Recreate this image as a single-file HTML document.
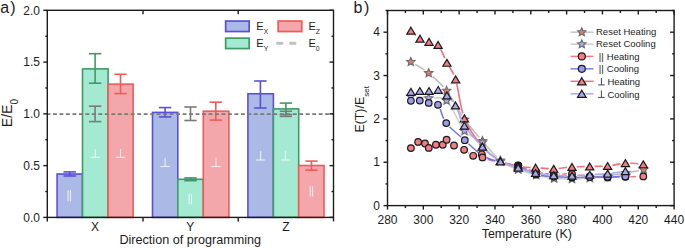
<!DOCTYPE html>
<html><head><meta charset="utf-8"><style>
html,body{margin:0;padding:0;background:#fff;width:685px;height:248px;overflow:hidden}
svg{display:block;font-family:"Liberation Sans", sans-serif}
</style></head><body>
<svg width="685" height="248" viewBox="0 0 685 248">
<rect x="57.10" y="174.00" width="25.40" height="43.40" fill="#aab9e6" stroke="#5a50d8" stroke-width="1.6"/>
<rect x="82.50" y="68.90" width="25.60" height="148.50" fill="#a4ead2" stroke="#3f9a66" stroke-width="1.6"/>
<rect x="108.10" y="84.10" width="25.00" height="133.30" fill="#f3a7ab" stroke="#ef5b58" stroke-width="1.6"/>
<rect x="152.50" y="112.40" width="25.30" height="105.00" fill="#aab9e6" stroke="#5a50d8" stroke-width="1.6"/>
<rect x="177.80" y="179.30" width="25.50" height="38.10" fill="#a4ead2" stroke="#3f9a66" stroke-width="1.6"/>
<rect x="203.30" y="111.20" width="25.60" height="106.20" fill="#f3a7ab" stroke="#ef5b58" stroke-width="1.6"/>
<rect x="247.90" y="93.75" width="25.50" height="123.65" fill="#aab9e6" stroke="#5a50d8" stroke-width="1.6"/>
<rect x="273.40" y="108.90" width="25.30" height="108.50" fill="#a4ead2" stroke="#3f9a66" stroke-width="1.6"/>
<rect x="298.70" y="165.50" width="25.30" height="51.90" fill="#f3a7ab" stroke="#ef5b58" stroke-width="1.6"/>
<line x1="95.40" y1="148.90" x2="95.40" y2="157.30" stroke="rgba(255,255,255,0.75)" stroke-width="1.1" />
<line x1="90.80" y1="157.30" x2="100.00" y2="157.30" stroke="rgba(255,255,255,0.75)" stroke-width="1.1" />
<line x1="120.50" y1="148.90" x2="120.50" y2="157.30" stroke="rgba(255,255,255,0.75)" stroke-width="1.1" />
<line x1="115.90" y1="157.30" x2="125.10" y2="157.30" stroke="rgba(255,255,255,0.75)" stroke-width="1.1" />
<line x1="165.10" y1="157.70" x2="165.10" y2="166.50" stroke="rgba(255,255,255,0.75)" stroke-width="1.1" />
<line x1="160.50" y1="166.50" x2="169.70" y2="166.50" stroke="rgba(255,255,255,0.75)" stroke-width="1.1" />
<line x1="216.00" y1="157.70" x2="216.00" y2="166.50" stroke="rgba(255,255,255,0.75)" stroke-width="1.1" />
<line x1="211.40" y1="166.50" x2="220.60" y2="166.50" stroke="rgba(255,255,255,0.75)" stroke-width="1.1" />
<line x1="260.60" y1="151.10" x2="260.60" y2="160.00" stroke="rgba(255,255,255,0.75)" stroke-width="1.1" />
<line x1="256.00" y1="160.00" x2="265.20" y2="160.00" stroke="rgba(255,255,255,0.75)" stroke-width="1.1" />
<line x1="285.50" y1="151.10" x2="285.50" y2="160.00" stroke="rgba(255,255,255,0.75)" stroke-width="1.1" />
<line x1="280.90" y1="160.00" x2="290.10" y2="160.00" stroke="rgba(255,255,255,0.75)" stroke-width="1.1" />
<line x1="68.10" y1="190.30" x2="68.10" y2="201.30" stroke="rgba(255,255,255,0.75)" stroke-width="1.1" />
<line x1="70.50" y1="190.30" x2="70.50" y2="201.30" stroke="rgba(255,255,255,0.75)" stroke-width="1.1" />
<line x1="189.10" y1="193.70" x2="189.10" y2="204.20" stroke="rgba(255,255,255,0.75)" stroke-width="1.1" />
<line x1="191.50" y1="193.70" x2="191.50" y2="204.20" stroke="rgba(255,255,255,0.75)" stroke-width="1.1" />
<line x1="310.20" y1="186.30" x2="310.20" y2="196.40" stroke="rgba(255,255,255,0.75)" stroke-width="1.1" />
<line x1="312.60" y1="186.30" x2="312.60" y2="196.40" stroke="rgba(255,255,255,0.75)" stroke-width="1.1" />
<line x1="69.70" y1="171.90" x2="69.70" y2="176.00" stroke="#5a50d8" stroke-width="1.6" />
<line x1="63.50" y1="171.90" x2="75.90" y2="171.90" stroke="#5a50d8" stroke-width="1.6" />
<line x1="63.50" y1="176.00" x2="75.90" y2="176.00" stroke="#5a50d8" stroke-width="1.6" />
<line x1="95.10" y1="53.70" x2="95.10" y2="83.20" stroke="#3f9a66" stroke-width="1.6" />
<line x1="88.90" y1="53.70" x2="101.30" y2="53.70" stroke="#3f9a66" stroke-width="1.6" />
<line x1="88.90" y1="83.20" x2="101.30" y2="83.20" stroke="#3f9a66" stroke-width="1.6" />
<line x1="120.50" y1="74.30" x2="120.50" y2="93.60" stroke="#ef5b58" stroke-width="1.6" />
<line x1="114.30" y1="74.30" x2="126.70" y2="74.30" stroke="#ef5b58" stroke-width="1.6" />
<line x1="114.30" y1="93.60" x2="126.70" y2="93.60" stroke="#ef5b58" stroke-width="1.6" />
<line x1="165.10" y1="107.60" x2="165.10" y2="116.90" stroke="#5a50d8" stroke-width="1.6" />
<line x1="158.90" y1="107.60" x2="171.30" y2="107.60" stroke="#5a50d8" stroke-width="1.6" />
<line x1="158.90" y1="116.90" x2="171.30" y2="116.90" stroke="#5a50d8" stroke-width="1.6" />
<line x1="190.50" y1="177.90" x2="190.50" y2="180.70" stroke="#3f9a66" stroke-width="1.6" />
<line x1="184.30" y1="177.90" x2="196.70" y2="177.90" stroke="#3f9a66" stroke-width="1.6" />
<line x1="184.30" y1="180.70" x2="196.70" y2="180.70" stroke="#3f9a66" stroke-width="1.6" />
<line x1="215.80" y1="102.20" x2="215.80" y2="120.10" stroke="#ef5b58" stroke-width="1.6" />
<line x1="209.60" y1="102.20" x2="222.00" y2="102.20" stroke="#ef5b58" stroke-width="1.6" />
<line x1="209.60" y1="120.10" x2="222.00" y2="120.10" stroke="#ef5b58" stroke-width="1.6" />
<line x1="260.40" y1="81.00" x2="260.40" y2="108.00" stroke="#5a50d8" stroke-width="1.6" />
<line x1="254.20" y1="81.00" x2="266.60" y2="81.00" stroke="#5a50d8" stroke-width="1.6" />
<line x1="254.20" y1="108.00" x2="266.60" y2="108.00" stroke="#5a50d8" stroke-width="1.6" />
<line x1="285.90" y1="103.10" x2="285.90" y2="114.60" stroke="#3f9a66" stroke-width="1.6" />
<line x1="279.70" y1="103.10" x2="292.10" y2="103.10" stroke="#3f9a66" stroke-width="1.6" />
<line x1="279.70" y1="114.60" x2="292.10" y2="114.60" stroke="#3f9a66" stroke-width="1.6" />
<line x1="311.50" y1="161.10" x2="311.50" y2="170.10" stroke="#ef5b58" stroke-width="1.6" />
<line x1="305.30" y1="161.10" x2="317.70" y2="161.10" stroke="#ef5b58" stroke-width="1.6" />
<line x1="305.30" y1="170.10" x2="317.70" y2="170.10" stroke="#ef5b58" stroke-width="1.6" />
<line x1="47.30" y1="114.00" x2="332.80" y2="114.00" stroke="#7a7a7a" stroke-width="1.75" stroke-dasharray="3.9 2.58" stroke-dashoffset="0.78"/>
<line x1="95.10" y1="106.20" x2="95.10" y2="121.60" stroke="#7a7a7a" stroke-width="1.6" />
<line x1="88.90" y1="106.20" x2="101.30" y2="106.20" stroke="#7a7a7a" stroke-width="1.6" />
<line x1="88.90" y1="121.60" x2="101.30" y2="121.60" stroke="#7a7a7a" stroke-width="1.6" />
<line x1="190.50" y1="107.00" x2="190.50" y2="120.50" stroke="#7a7a7a" stroke-width="1.6" />
<line x1="184.30" y1="107.00" x2="196.70" y2="107.00" stroke="#7a7a7a" stroke-width="1.6" />
<line x1="184.30" y1="120.50" x2="196.70" y2="120.50" stroke="#7a7a7a" stroke-width="1.6" />
<line x1="285.90" y1="111.30" x2="285.90" y2="116.40" stroke="#7a7a7a" stroke-width="1.6" />
<line x1="279.70" y1="111.30" x2="292.10" y2="111.30" stroke="#7a7a7a" stroke-width="1.6" />
<line x1="279.70" y1="116.40" x2="292.10" y2="116.40" stroke="#7a7a7a" stroke-width="1.6" />
<rect x="47.3" y="10.3" width="286.2" height="207.1" fill="none" stroke="#1c1c1c" stroke-width="1.4"/>
<line x1="43.30" y1="217.40" x2="47.30" y2="217.40" stroke="#1c1c1c" stroke-width="1.4" />
<line x1="329.50" y1="217.40" x2="333.50" y2="217.40" stroke="#1c1c1c" stroke-width="1.4" />
<text x="39.90" y="221.60" font-size="12" text-anchor="end" fill="#1c1c1c" >0.0</text>
<line x1="45.30" y1="191.51" x2="47.30" y2="191.51" stroke="#1c1c1c" stroke-width="1.4" />
<line x1="331.50" y1="191.51" x2="333.50" y2="191.51" stroke="#1c1c1c" stroke-width="1.4" />
<line x1="43.30" y1="165.62" x2="47.30" y2="165.62" stroke="#1c1c1c" stroke-width="1.4" />
<line x1="329.50" y1="165.62" x2="333.50" y2="165.62" stroke="#1c1c1c" stroke-width="1.4" />
<text x="39.90" y="169.82" font-size="12" text-anchor="end" fill="#1c1c1c" >0.5</text>
<line x1="45.30" y1="139.74" x2="47.30" y2="139.74" stroke="#1c1c1c" stroke-width="1.4" />
<line x1="331.50" y1="139.74" x2="333.50" y2="139.74" stroke="#1c1c1c" stroke-width="1.4" />
<line x1="43.30" y1="113.85" x2="47.30" y2="113.85" stroke="#1c1c1c" stroke-width="1.4" />
<line x1="329.50" y1="113.85" x2="333.50" y2="113.85" stroke="#1c1c1c" stroke-width="1.4" />
<text x="39.90" y="118.05" font-size="12" text-anchor="end" fill="#1c1c1c" >1.0</text>
<line x1="45.30" y1="87.96" x2="47.30" y2="87.96" stroke="#1c1c1c" stroke-width="1.4" />
<line x1="331.50" y1="87.96" x2="333.50" y2="87.96" stroke="#1c1c1c" stroke-width="1.4" />
<line x1="43.30" y1="62.08" x2="47.30" y2="62.08" stroke="#1c1c1c" stroke-width="1.4" />
<line x1="329.50" y1="62.08" x2="333.50" y2="62.08" stroke="#1c1c1c" stroke-width="1.4" />
<text x="39.90" y="66.28" font-size="12" text-anchor="end" fill="#1c1c1c" >1.5</text>
<line x1="45.30" y1="36.19" x2="47.30" y2="36.19" stroke="#1c1c1c" stroke-width="1.4" />
<line x1="331.50" y1="36.19" x2="333.50" y2="36.19" stroke="#1c1c1c" stroke-width="1.4" />
<line x1="43.30" y1="10.30" x2="47.30" y2="10.30" stroke="#1c1c1c" stroke-width="1.4" />
<line x1="329.50" y1="10.30" x2="333.50" y2="10.30" stroke="#1c1c1c" stroke-width="1.4" />
<text x="39.90" y="14.50" font-size="12" text-anchor="end" fill="#1c1c1c" >2.0</text>
<line x1="47.30" y1="217.40" x2="47.30" y2="221.40" stroke="#1c1c1c" stroke-width="1.4" />
<line x1="143.00" y1="217.40" x2="143.00" y2="221.40" stroke="#1c1c1c" stroke-width="1.4" />
<line x1="238.20" y1="217.40" x2="238.20" y2="221.40" stroke="#1c1c1c" stroke-width="1.4" />
<line x1="333.50" y1="217.40" x2="333.50" y2="221.40" stroke="#1c1c1c" stroke-width="1.4" />
<line x1="143.00" y1="10.30" x2="143.00" y2="14.30" stroke="#1c1c1c" stroke-width="1.4" />
<line x1="238.20" y1="10.30" x2="238.20" y2="14.30" stroke="#1c1c1c" stroke-width="1.4" />
<text x="94.90" y="231.40" font-size="12" text-anchor="middle" fill="#1c1c1c" >X</text>
<text x="190.20" y="231.40" font-size="12" text-anchor="middle" fill="#1c1c1c" >Y</text>
<text x="285.80" y="231.40" font-size="12" text-anchor="middle" fill="#1c1c1c" >Z</text>
<text x="190.25" y="244.20" font-size="12.63" text-anchor="middle" fill="#1c1c1c" >Direction of programming</text>
<text transform="translate(12.0,127.2) rotate(-90)" font-size="14" fill="#1c1c1c">E/E<tspan font-size="10" dy="5.6">0</tspan></text>
<text x="0.20" y="12.60" font-size="16" text-anchor="start" fill="#1c1c1c" >a<tspan dx="1.2">)</tspan></text>
<rect x="225.65" y="21.05" width="23.50" height="10.50" fill="#aab9e6" stroke="#5a50d8" stroke-width="1.7"/>
<rect x="278.15" y="21.05" width="23.60" height="10.50" fill="#f3a7ab" stroke="#ef5b58" stroke-width="1.7"/>
<rect x="225.65" y="38.15" width="23.50" height="10.40" fill="#a4ead2" stroke="#3f9a66" stroke-width="1.7"/>
<line x1="277.50" y1="43.20" x2="295.00" y2="43.20" stroke="#c0c0c0" stroke-width="3" stroke-dasharray="4.5 8.5" stroke-linecap="round"/>
<text x="256.3" y="30.1" font-size="11" fill="#1c1c1c">E<tspan font-size="6.6" dy="3.7">X</tspan></text>
<text x="308.5" y="30.1" font-size="11" fill="#1c1c1c">E<tspan font-size="7" dy="3.5">Z</tspan></text>
<text x="256.3" y="46.9" font-size="11" fill="#1c1c1c">E<tspan font-size="6.8" dy="4.3">Y</tspan></text>
<text x="308.5" y="46.9" font-size="11" fill="#1c1c1c">E<tspan font-size="6.8" dy="4.3">0</tspan></text>
<rect x="387.5" y="10.5" width="286.6" height="195.1" fill="none" stroke="#1c1c1c" stroke-width="1.4"/>
<line x1="383.50" y1="205.60" x2="387.50" y2="205.60" stroke="#1c1c1c" stroke-width="1.4" />
<line x1="670.10" y1="205.60" x2="674.10" y2="205.60" stroke="#1c1c1c" stroke-width="1.4" />
<text x="379.90" y="209.80" font-size="12" text-anchor="end" fill="#1c1c1c" >0</text>
<line x1="385.50" y1="183.92" x2="387.50" y2="183.92" stroke="#1c1c1c" stroke-width="1.4" />
<line x1="672.10" y1="183.92" x2="674.10" y2="183.92" stroke="#1c1c1c" stroke-width="1.4" />
<line x1="383.50" y1="162.24" x2="387.50" y2="162.24" stroke="#1c1c1c" stroke-width="1.4" />
<line x1="670.10" y1="162.24" x2="674.10" y2="162.24" stroke="#1c1c1c" stroke-width="1.4" />
<text x="379.90" y="166.44" font-size="12" text-anchor="end" fill="#1c1c1c" >1</text>
<line x1="385.50" y1="140.57" x2="387.50" y2="140.57" stroke="#1c1c1c" stroke-width="1.4" />
<line x1="672.10" y1="140.57" x2="674.10" y2="140.57" stroke="#1c1c1c" stroke-width="1.4" />
<line x1="383.50" y1="118.89" x2="387.50" y2="118.89" stroke="#1c1c1c" stroke-width="1.4" />
<line x1="670.10" y1="118.89" x2="674.10" y2="118.89" stroke="#1c1c1c" stroke-width="1.4" />
<text x="379.90" y="123.09" font-size="12" text-anchor="end" fill="#1c1c1c" >2</text>
<line x1="385.50" y1="97.21" x2="387.50" y2="97.21" stroke="#1c1c1c" stroke-width="1.4" />
<line x1="672.10" y1="97.21" x2="674.10" y2="97.21" stroke="#1c1c1c" stroke-width="1.4" />
<line x1="383.50" y1="75.53" x2="387.50" y2="75.53" stroke="#1c1c1c" stroke-width="1.4" />
<line x1="670.10" y1="75.53" x2="674.10" y2="75.53" stroke="#1c1c1c" stroke-width="1.4" />
<text x="379.90" y="79.73" font-size="12" text-anchor="end" fill="#1c1c1c" >3</text>
<line x1="385.50" y1="53.86" x2="387.50" y2="53.86" stroke="#1c1c1c" stroke-width="1.4" />
<line x1="672.10" y1="53.86" x2="674.10" y2="53.86" stroke="#1c1c1c" stroke-width="1.4" />
<line x1="383.50" y1="32.18" x2="387.50" y2="32.18" stroke="#1c1c1c" stroke-width="1.4" />
<line x1="670.10" y1="32.18" x2="674.10" y2="32.18" stroke="#1c1c1c" stroke-width="1.4" />
<text x="379.90" y="36.38" font-size="12" text-anchor="end" fill="#1c1c1c" >4</text>
<line x1="385.50" y1="10.50" x2="387.50" y2="10.50" stroke="#1c1c1c" stroke-width="1.4" />
<line x1="672.10" y1="10.50" x2="674.10" y2="10.50" stroke="#1c1c1c" stroke-width="1.4" />
<line x1="387.50" y1="205.60" x2="387.50" y2="209.60" stroke="#1c1c1c" stroke-width="1.4" />
<line x1="387.50" y1="10.50" x2="387.50" y2="14.50" stroke="#1c1c1c" stroke-width="1.4" />
<text x="387.50" y="223.70" font-size="12" text-anchor="middle" fill="#1c1c1c" >280</text>
<line x1="405.41" y1="205.60" x2="405.41" y2="208.10" stroke="#1c1c1c" stroke-width="1.4" />
<line x1="405.41" y1="10.50" x2="405.41" y2="13.00" stroke="#1c1c1c" stroke-width="1.4" />
<line x1="423.32" y1="205.60" x2="423.32" y2="209.60" stroke="#1c1c1c" stroke-width="1.4" />
<line x1="423.32" y1="10.50" x2="423.32" y2="14.50" stroke="#1c1c1c" stroke-width="1.4" />
<text x="423.32" y="223.70" font-size="12" text-anchor="middle" fill="#1c1c1c" >300</text>
<line x1="441.24" y1="205.60" x2="441.24" y2="208.10" stroke="#1c1c1c" stroke-width="1.4" />
<line x1="441.24" y1="10.50" x2="441.24" y2="13.00" stroke="#1c1c1c" stroke-width="1.4" />
<line x1="459.15" y1="205.60" x2="459.15" y2="209.60" stroke="#1c1c1c" stroke-width="1.4" />
<line x1="459.15" y1="10.50" x2="459.15" y2="14.50" stroke="#1c1c1c" stroke-width="1.4" />
<text x="459.15" y="223.70" font-size="12" text-anchor="middle" fill="#1c1c1c" >320</text>
<line x1="477.06" y1="205.60" x2="477.06" y2="208.10" stroke="#1c1c1c" stroke-width="1.4" />
<line x1="477.06" y1="10.50" x2="477.06" y2="13.00" stroke="#1c1c1c" stroke-width="1.4" />
<line x1="494.98" y1="205.60" x2="494.98" y2="209.60" stroke="#1c1c1c" stroke-width="1.4" />
<line x1="494.98" y1="10.50" x2="494.98" y2="14.50" stroke="#1c1c1c" stroke-width="1.4" />
<text x="494.98" y="223.70" font-size="12" text-anchor="middle" fill="#1c1c1c" >340</text>
<line x1="512.89" y1="205.60" x2="512.89" y2="208.10" stroke="#1c1c1c" stroke-width="1.4" />
<line x1="512.89" y1="10.50" x2="512.89" y2="13.00" stroke="#1c1c1c" stroke-width="1.4" />
<line x1="530.80" y1="205.60" x2="530.80" y2="209.60" stroke="#1c1c1c" stroke-width="1.4" />
<line x1="530.80" y1="10.50" x2="530.80" y2="14.50" stroke="#1c1c1c" stroke-width="1.4" />
<text x="530.80" y="223.70" font-size="12" text-anchor="middle" fill="#1c1c1c" >360</text>
<line x1="548.71" y1="205.60" x2="548.71" y2="208.10" stroke="#1c1c1c" stroke-width="1.4" />
<line x1="548.71" y1="10.50" x2="548.71" y2="13.00" stroke="#1c1c1c" stroke-width="1.4" />
<line x1="566.62" y1="205.60" x2="566.62" y2="209.60" stroke="#1c1c1c" stroke-width="1.4" />
<line x1="566.62" y1="10.50" x2="566.62" y2="14.50" stroke="#1c1c1c" stroke-width="1.4" />
<text x="566.62" y="223.70" font-size="12" text-anchor="middle" fill="#1c1c1c" >380</text>
<line x1="584.54" y1="205.60" x2="584.54" y2="208.10" stroke="#1c1c1c" stroke-width="1.4" />
<line x1="584.54" y1="10.50" x2="584.54" y2="13.00" stroke="#1c1c1c" stroke-width="1.4" />
<line x1="602.45" y1="205.60" x2="602.45" y2="209.60" stroke="#1c1c1c" stroke-width="1.4" />
<line x1="602.45" y1="10.50" x2="602.45" y2="14.50" stroke="#1c1c1c" stroke-width="1.4" />
<text x="602.45" y="223.70" font-size="12" text-anchor="middle" fill="#1c1c1c" >400</text>
<line x1="620.36" y1="205.60" x2="620.36" y2="208.10" stroke="#1c1c1c" stroke-width="1.4" />
<line x1="620.36" y1="10.50" x2="620.36" y2="13.00" stroke="#1c1c1c" stroke-width="1.4" />
<line x1="638.27" y1="205.60" x2="638.27" y2="209.60" stroke="#1c1c1c" stroke-width="1.4" />
<line x1="638.27" y1="10.50" x2="638.27" y2="14.50" stroke="#1c1c1c" stroke-width="1.4" />
<text x="638.27" y="223.70" font-size="12" text-anchor="middle" fill="#1c1c1c" >420</text>
<line x1="656.19" y1="205.60" x2="656.19" y2="208.10" stroke="#1c1c1c" stroke-width="1.4" />
<line x1="656.19" y1="10.50" x2="656.19" y2="13.00" stroke="#1c1c1c" stroke-width="1.4" />
<line x1="674.10" y1="205.60" x2="674.10" y2="209.60" stroke="#1c1c1c" stroke-width="1.4" />
<line x1="674.10" y1="10.50" x2="674.10" y2="14.50" stroke="#1c1c1c" stroke-width="1.4" />
<text x="674.10" y="223.70" font-size="12" text-anchor="middle" fill="#1c1c1c" >440</text>
<text x="526.80" y="237.90" font-size="12.5" text-anchor="middle" fill="#1c1c1c" >Temperature (K)</text>
<text transform="translate(364.4,132.6) rotate(-90)" font-size="12.4" fill="#1c1c1c">E(T)/E<tspan font-size="8" dy="4.3">set</tspan></text>
<text x="353.40" y="13.30" font-size="16" text-anchor="start" fill="#1c1c1c" >b<tspan dx="1.6">)</tspan></text>
<mask id="m1" maskUnits="userSpaceOnUse" x="380" y="0" width="305" height="248"><rect x="380" y="0" width="305" height="248" fill="#fff"/><circle cx="410.79" cy="61.90" r="5.0" fill="#000"/><circle cx="428.70" cy="73.10" r="5.0" fill="#000"/><circle cx="446.61" cy="90.80" r="5.0" fill="#000"/><circle cx="464.52" cy="119.50" r="5.0" fill="#000"/><circle cx="482.44" cy="141.00" r="5.0" fill="#000"/><circle cx="500.35" cy="160.50" r="5.0" fill="#000"/><circle cx="518.26" cy="169.00" r="5.0" fill="#000"/><circle cx="536.17" cy="174.50" r="5.0" fill="#000"/><circle cx="554.09" cy="177.50" r="5.0" fill="#000"/><circle cx="572.00" cy="178.00" r="5.0" fill="#000"/><circle cx="589.91" cy="177.50" r="5.0" fill="#000"/><circle cx="607.82" cy="175.50" r="5.0" fill="#000"/><circle cx="625.74" cy="173.00" r="5.0" fill="#000"/><circle cx="643.65" cy="169.60" r="5.0" fill="#000"/></mask>
<g mask="url(#m1)">
<path d="M410.79,61.90 C413.77,63.77 422.73,68.28 428.70,73.10 C434.67,77.92 440.64,83.07 446.61,90.80 C452.58,98.53 458.55,111.13 464.52,119.50 C470.49,127.87 476.47,134.17 482.44,141.00 C488.41,147.83 494.38,155.83 500.35,160.50 C506.32,165.17 512.29,166.67 518.26,169.00 C524.23,171.33 530.20,173.08 536.17,174.50 C542.14,175.92 548.12,176.92 554.09,177.50 C560.06,178.08 566.03,178.00 572.00,178.00 C577.97,178.00 583.94,177.92 589.91,177.50 C595.88,177.08 601.85,176.25 607.82,175.50 C613.79,174.75 619.77,173.98 625.74,173.00 C631.71,172.02 640.66,170.17 643.65,169.60" fill="none" stroke="#bcbcbc" stroke-width="1.5" />
</g>
<polygon points="410.79,57.60 411.97,60.26 414.88,60.57 412.71,62.52 413.31,65.38 410.79,63.92 408.26,65.38 408.86,62.52 406.70,60.57 409.60,60.26" fill="#e8767c" stroke="#6e6e6e" stroke-width="1.2" stroke-linejoin="miter"/>
<polygon points="428.70,68.80 429.89,71.46 432.79,71.77 430.62,73.72 431.23,76.58 428.70,75.12 426.17,76.58 426.78,73.72 424.61,71.77 427.51,71.46" fill="#e8767c" stroke="#6e6e6e" stroke-width="1.2" stroke-linejoin="miter"/>
<polygon points="446.61,86.50 447.80,89.16 450.70,89.47 448.53,91.42 449.14,94.28 446.61,92.82 444.08,94.28 444.69,91.42 442.52,89.47 445.42,89.16" fill="#e8767c" stroke="#6e6e6e" stroke-width="1.2" stroke-linejoin="miter"/>
<polygon points="464.52,115.20 465.71,117.86 468.61,118.17 466.45,120.12 467.05,122.98 464.52,121.52 462.00,122.98 462.60,120.12 460.43,118.17 463.34,117.86" fill="#e8767c" stroke="#6e6e6e" stroke-width="1.2" stroke-linejoin="miter"/>
<polygon points="482.44,136.70 483.62,139.36 486.53,139.67 484.36,141.62 484.96,144.48 482.44,143.02 479.91,144.48 480.51,141.62 478.35,139.67 481.25,139.36" fill="#e8767c" stroke="#6e6e6e" stroke-width="1.2" stroke-linejoin="miter"/>
<polygon points="500.35,156.20 501.54,158.86 504.44,159.17 502.27,161.12 502.88,163.98 500.35,162.52 497.82,163.98 498.43,161.12 496.26,159.17 499.16,158.86" fill="#e8767c" stroke="#6e6e6e" stroke-width="1.2" stroke-linejoin="miter"/>
<polygon points="518.26,164.70 519.45,167.36 522.35,167.67 520.18,169.62 520.79,172.48 518.26,171.02 515.73,172.48 516.34,169.62 514.17,167.67 517.07,167.36" fill="#e8767c" stroke="#6e6e6e" stroke-width="1.2" stroke-linejoin="miter"/>
<polygon points="536.17,170.20 537.36,172.86 540.26,173.17 538.10,175.12 538.70,177.98 536.17,176.52 533.65,177.98 534.25,175.12 532.08,173.17 534.99,172.86" fill="#e8767c" stroke="#6e6e6e" stroke-width="1.2" stroke-linejoin="miter"/>
<polygon points="554.09,173.20 555.27,175.86 558.18,176.17 556.01,178.12 556.61,180.98 554.09,179.52 551.56,180.98 552.16,178.12 550.00,176.17 552.90,175.86" fill="#e8767c" stroke="#6e6e6e" stroke-width="1.2" stroke-linejoin="miter"/>
<polygon points="572.00,173.70 573.19,176.36 576.09,176.67 573.92,178.62 574.53,181.48 572.00,180.02 569.47,181.48 570.08,178.62 567.91,176.67 570.81,176.36" fill="#e8767c" stroke="#6e6e6e" stroke-width="1.2" stroke-linejoin="miter"/>
<polygon points="589.91,173.20 591.10,175.86 594.00,176.17 591.83,178.12 592.44,180.98 589.91,179.52 587.38,180.98 587.99,178.12 585.82,176.17 588.72,175.86" fill="#e8767c" stroke="#6e6e6e" stroke-width="1.2" stroke-linejoin="miter"/>
<polygon points="607.82,171.20 609.01,173.86 611.91,174.17 609.75,176.12 610.35,178.98 607.82,177.52 605.30,178.98 605.90,176.12 603.73,174.17 606.64,173.86" fill="#e8767c" stroke="#6e6e6e" stroke-width="1.2" stroke-linejoin="miter"/>
<polygon points="625.74,168.70 626.92,171.36 629.83,171.67 627.66,173.62 628.26,176.48 625.74,175.02 623.21,176.48 623.81,173.62 621.65,171.67 624.55,171.36" fill="#e8767c" stroke="#6e6e6e" stroke-width="1.2" stroke-linejoin="miter"/>
<polygon points="643.65,165.30 644.84,167.96 647.74,168.27 645.57,170.22 646.18,173.08 643.65,171.62 641.12,173.08 641.73,170.22 639.56,168.27 642.46,167.96" fill="#e8767c" stroke="#6e6e6e" stroke-width="1.2" stroke-linejoin="miter"/>
<mask id="m2" maskUnits="userSpaceOnUse" x="380" y="0" width="305" height="248"><rect x="380" y="0" width="305" height="248" fill="#fff"/><circle cx="410.79" cy="96.50" r="5.0" fill="#000"/><circle cx="428.70" cy="98.20" r="5.0" fill="#000"/><circle cx="446.61" cy="100.60" r="5.0" fill="#000"/><circle cx="464.52" cy="131.00" r="5.0" fill="#000"/><circle cx="482.44" cy="142.40" r="5.0" fill="#000"/><circle cx="500.35" cy="161.50" r="5.0" fill="#000"/><circle cx="518.26" cy="169.50" r="5.0" fill="#000"/><circle cx="536.17" cy="175.00" r="5.0" fill="#000"/><circle cx="554.09" cy="178.50" r="5.0" fill="#000"/><circle cx="572.00" cy="179.00" r="5.0" fill="#000"/><circle cx="589.91" cy="178.00" r="5.0" fill="#000"/><circle cx="607.82" cy="177.00" r="5.0" fill="#000"/><circle cx="625.74" cy="175.50" r="5.0" fill="#000"/></mask>
<g mask="url(#m2)">
<path d="M410.79,96.50 C413.77,96.78 422.73,97.52 428.70,98.20 C434.67,98.88 440.64,95.13 446.61,100.60 C452.58,106.07 458.55,124.03 464.52,131.00 C470.49,137.97 476.47,137.32 482.44,142.40 C488.41,147.48 494.38,156.98 500.35,161.50 C506.32,166.02 512.29,167.25 518.26,169.50 C524.23,171.75 530.20,173.50 536.17,175.00 C542.14,176.50 548.12,177.83 554.09,178.50 C560.06,179.17 566.03,179.08 572.00,179.00 C577.97,178.92 583.94,178.33 589.91,178.00 C595.88,177.67 601.85,177.42 607.82,177.00 C613.79,176.58 622.75,175.75 625.74,175.50" fill="none" stroke="#d2d2d2" stroke-width="1.5" />
</g>
<polygon points="410.79,92.20 411.97,94.86 414.88,95.17 412.71,97.12 413.31,99.98 410.79,98.52 408.26,99.98 408.86,97.12 406.70,95.17 409.60,94.86" fill="#b0aaf0" stroke="#6e6e6e" stroke-width="1.2" stroke-linejoin="miter"/>
<polygon points="428.70,93.90 429.89,96.56 432.79,96.87 430.62,98.82 431.23,101.68 428.70,100.22 426.17,101.68 426.78,98.82 424.61,96.87 427.51,96.56" fill="#b0aaf0" stroke="#6e6e6e" stroke-width="1.2" stroke-linejoin="miter"/>
<polygon points="446.61,96.30 447.80,98.96 450.70,99.27 448.53,101.22 449.14,104.08 446.61,102.62 444.08,104.08 444.69,101.22 442.52,99.27 445.42,98.96" fill="#b0aaf0" stroke="#6e6e6e" stroke-width="1.2" stroke-linejoin="miter"/>
<polygon points="464.52,126.70 465.71,129.36 468.61,129.67 466.45,131.62 467.05,134.48 464.52,133.02 462.00,134.48 462.60,131.62 460.43,129.67 463.34,129.36" fill="#b0aaf0" stroke="#6e6e6e" stroke-width="1.2" stroke-linejoin="miter"/>
<polygon points="482.44,138.10 483.62,140.76 486.53,141.07 484.36,143.02 484.96,145.88 482.44,144.42 479.91,145.88 480.51,143.02 478.35,141.07 481.25,140.76" fill="#b0aaf0" stroke="#6e6e6e" stroke-width="1.2" stroke-linejoin="miter"/>
<polygon points="500.35,157.20 501.54,159.86 504.44,160.17 502.27,162.12 502.88,164.98 500.35,163.52 497.82,164.98 498.43,162.12 496.26,160.17 499.16,159.86" fill="#b0aaf0" stroke="#6e6e6e" stroke-width="1.2" stroke-linejoin="miter"/>
<polygon points="518.26,165.20 519.45,167.86 522.35,168.17 520.18,170.12 520.79,172.98 518.26,171.52 515.73,172.98 516.34,170.12 514.17,168.17 517.07,167.86" fill="#b0aaf0" stroke="#6e6e6e" stroke-width="1.2" stroke-linejoin="miter"/>
<polygon points="536.17,170.70 537.36,173.36 540.26,173.67 538.10,175.62 538.70,178.48 536.17,177.02 533.65,178.48 534.25,175.62 532.08,173.67 534.99,173.36" fill="#b0aaf0" stroke="#6e6e6e" stroke-width="1.2" stroke-linejoin="miter"/>
<polygon points="554.09,174.20 555.27,176.86 558.18,177.17 556.01,179.12 556.61,181.98 554.09,180.52 551.56,181.98 552.16,179.12 550.00,177.17 552.90,176.86" fill="#b0aaf0" stroke="#6e6e6e" stroke-width="1.2" stroke-linejoin="miter"/>
<polygon points="572.00,174.70 573.19,177.36 576.09,177.67 573.92,179.62 574.53,182.48 572.00,181.02 569.47,182.48 570.08,179.62 567.91,177.67 570.81,177.36" fill="#b0aaf0" stroke="#6e6e6e" stroke-width="1.2" stroke-linejoin="miter"/>
<polygon points="589.91,173.70 591.10,176.36 594.00,176.67 591.83,178.62 592.44,181.48 589.91,180.02 587.38,181.48 587.99,178.62 585.82,176.67 588.72,176.36" fill="#b0aaf0" stroke="#6e6e6e" stroke-width="1.2" stroke-linejoin="miter"/>
<polygon points="607.82,172.70 609.01,175.36 611.91,175.67 609.75,177.62 610.35,180.48 607.82,179.02 605.30,180.48 605.90,177.62 603.73,175.67 606.64,175.36" fill="#b0aaf0" stroke="#6e6e6e" stroke-width="1.2" stroke-linejoin="miter"/>
<polygon points="625.74,171.20 626.92,173.86 629.83,174.17 627.66,176.12 628.26,178.98 625.74,177.52 623.21,178.98 623.81,176.12 621.65,174.17 624.55,173.86" fill="#b0aaf0" stroke="#6e6e6e" stroke-width="1.2" stroke-linejoin="miter"/>
<mask id="m3" maskUnits="userSpaceOnUse" x="380" y="0" width="305" height="248"><rect x="380" y="0" width="305" height="248" fill="#fff"/><circle cx="410.90" cy="148.10" r="5.0" fill="#000"/><circle cx="418.10" cy="141.90" r="5.0" fill="#000"/><circle cx="425.00" cy="143.50" r="5.0" fill="#000"/><circle cx="428.75" cy="147.90" r="5.0" fill="#000"/><circle cx="435.90" cy="144.75" r="5.0" fill="#000"/><circle cx="442.75" cy="144.75" r="5.0" fill="#000"/><circle cx="446.60" cy="139.75" r="5.0" fill="#000"/><circle cx="454.00" cy="145.50" r="5.0" fill="#000"/><circle cx="464.10" cy="149.80" r="5.0" fill="#000"/><circle cx="473.20" cy="155.80" r="5.0" fill="#000"/><circle cx="481.80" cy="154.30" r="5.0" fill="#000"/><circle cx="482.50" cy="157.40" r="5.0" fill="#000"/><circle cx="500.30" cy="162.80" r="5.0" fill="#000"/><circle cx="518.20" cy="165.60" r="5.0" fill="#000"/><circle cx="536.00" cy="172.00" r="5.0" fill="#000"/><circle cx="553.70" cy="174.00" r="5.0" fill="#000"/><circle cx="572.00" cy="174.00" r="5.0" fill="#000"/><circle cx="589.70" cy="176.50" r="5.0" fill="#000"/><circle cx="607.60" cy="177.50" r="5.0" fill="#000"/><circle cx="625.40" cy="176.80" r="5.0" fill="#000"/><circle cx="643.30" cy="176.40" r="5.0" fill="#000"/></mask>
<g mask="url(#m3)">
<path d="M410.90,148.10 C412.10,147.07 415.75,142.67 418.10,141.90 C420.45,141.13 423.23,142.50 425.00,143.50 C426.77,144.50 426.93,147.69 428.75,147.90 C430.57,148.11 433.57,145.28 435.90,144.75 C438.23,144.22 440.97,145.58 442.75,144.75 C444.53,143.92 444.73,139.62 446.60,139.75 C448.48,139.88 451.08,143.82 454.00,145.50 C456.92,147.18 460.90,148.08 464.10,149.80 C467.30,151.52 470.25,155.05 473.20,155.80 C476.15,156.55 480.25,154.03 481.80,154.30 C483.35,154.57 479.42,155.98 482.50,157.40 C485.58,158.82 494.35,161.43 500.30,162.80 C506.25,164.17 512.25,164.07 518.20,165.60 C524.15,167.13 530.08,170.60 536.00,172.00 C541.92,173.40 547.70,173.67 553.70,174.00 C559.70,174.33 566.00,173.58 572.00,174.00 C578.00,174.42 583.77,175.92 589.70,176.50 C595.63,177.08 601.65,177.45 607.60,177.50 C613.55,177.55 619.45,176.98 625.40,176.80 C631.35,176.62 640.32,176.47 643.30,176.40" fill="none" stroke="#f27c82" stroke-width="1.5" stroke-dasharray="6 2.5"/>
</g>
<circle cx="410.90" cy="148.10" r="3.3" fill="#f27c82" stroke="#1a1a1a" stroke-width="1.2"/>
<circle cx="418.10" cy="141.90" r="3.3" fill="#f27c82" stroke="#1a1a1a" stroke-width="1.2"/>
<circle cx="425.00" cy="143.50" r="3.3" fill="#f27c82" stroke="#1a1a1a" stroke-width="1.2"/>
<circle cx="428.75" cy="147.90" r="3.3" fill="#f27c82" stroke="#1a1a1a" stroke-width="1.2"/>
<circle cx="435.90" cy="144.75" r="3.3" fill="#f27c82" stroke="#1a1a1a" stroke-width="1.2"/>
<circle cx="442.75" cy="144.75" r="3.3" fill="#f27c82" stroke="#1a1a1a" stroke-width="1.2"/>
<circle cx="446.60" cy="139.75" r="3.3" fill="#f27c82" stroke="#1a1a1a" stroke-width="1.2"/>
<circle cx="454.00" cy="145.50" r="3.3" fill="#f27c82" stroke="#1a1a1a" stroke-width="1.2"/>
<circle cx="464.10" cy="149.80" r="3.3" fill="#f27c82" stroke="#1a1a1a" stroke-width="1.2"/>
<circle cx="473.20" cy="155.80" r="3.3" fill="#f27c82" stroke="#1a1a1a" stroke-width="1.2"/>
<circle cx="481.80" cy="154.30" r="3.3" fill="#f27c82" stroke="#1a1a1a" stroke-width="1.2"/>
<circle cx="482.50" cy="157.40" r="3.3" fill="#f27c82" stroke="#1a1a1a" stroke-width="1.2"/>
<circle cx="518.20" cy="165.60" r="3.3" fill="#f27c82" stroke="#1a1a1a" stroke-width="1.2"/>
<circle cx="536.00" cy="172.00" r="3.3" fill="#f27c82" stroke="#1a1a1a" stroke-width="1.2"/>
<circle cx="553.70" cy="174.00" r="3.3" fill="#f27c82" stroke="#1a1a1a" stroke-width="1.2"/>
<circle cx="572.00" cy="174.00" r="3.3" fill="#f27c82" stroke="#1a1a1a" stroke-width="1.2"/>
<circle cx="589.70" cy="176.50" r="3.3" fill="#f27c82" stroke="#1a1a1a" stroke-width="1.2"/>
<circle cx="607.60" cy="177.50" r="3.3" fill="#f27c82" stroke="#1a1a1a" stroke-width="1.2"/>
<circle cx="625.40" cy="176.80" r="3.3" fill="#f27c82" stroke="#1a1a1a" stroke-width="1.2"/>
<circle cx="643.30" cy="176.40" r="3.3" fill="#f27c82" stroke="#1a1a1a" stroke-width="1.2"/>
<mask id="m4" maskUnits="userSpaceOnUse" x="380" y="0" width="305" height="248"><rect x="380" y="0" width="305" height="248" fill="#fff"/><circle cx="410.90" cy="100.80" r="5.0" fill="#000"/><circle cx="419.80" cy="100.60" r="5.0" fill="#000"/><circle cx="428.70" cy="102.90" r="5.0" fill="#000"/><circle cx="438.00" cy="104.80" r="5.0" fill="#000"/><circle cx="446.25" cy="123.10" r="5.0" fill="#000"/><circle cx="464.80" cy="140.20" r="5.0" fill="#000"/><circle cx="482.30" cy="155.50" r="5.0" fill="#000"/><circle cx="500.30" cy="162.30" r="5.0" fill="#000"/><circle cx="518.20" cy="166.00" r="5.0" fill="#000"/><circle cx="536.00" cy="174.50" r="5.0" fill="#000"/><circle cx="553.70" cy="176.50" r="5.0" fill="#000"/><circle cx="572.00" cy="177.40" r="5.0" fill="#000"/><circle cx="589.70" cy="177.00" r="5.0" fill="#000"/><circle cx="607.60" cy="176.80" r="5.0" fill="#000"/><circle cx="625.40" cy="176.50" r="5.0" fill="#000"/></mask>
<g mask="url(#m4)">
<path d="M410.90,100.80 C412.38,100.77 416.83,100.25 419.80,100.60 C422.77,100.95 425.67,102.20 428.70,102.90 C431.73,103.60 435.07,101.43 438.00,104.80 C440.93,108.17 441.78,117.20 446.25,123.10 C450.72,129.00 458.79,134.80 464.80,140.20 C470.81,145.60 476.38,151.82 482.30,155.50 C488.22,159.18 494.32,160.55 500.30,162.30 C506.28,164.05 512.25,163.97 518.20,166.00 C524.15,168.03 530.08,172.75 536.00,174.50 C541.92,176.25 547.70,176.02 553.70,176.50 C559.70,176.98 566.00,177.32 572.00,177.40 C578.00,177.48 583.77,177.10 589.70,177.00 C595.63,176.90 601.65,176.88 607.60,176.80 C613.55,176.72 622.43,176.55 625.40,176.50" fill="none" stroke="#7474e4" stroke-width="1.5" />
</g>
<circle cx="410.90" cy="100.80" r="3.3" fill="#9c9ceb" stroke="#1a1a1a" stroke-width="1.2"/>
<circle cx="419.80" cy="100.60" r="3.3" fill="#9c9ceb" stroke="#1a1a1a" stroke-width="1.2"/>
<circle cx="428.70" cy="102.90" r="3.3" fill="#9c9ceb" stroke="#1a1a1a" stroke-width="1.2"/>
<circle cx="438.00" cy="104.80" r="3.3" fill="#9c9ceb" stroke="#1a1a1a" stroke-width="1.2"/>
<circle cx="446.25" cy="123.10" r="3.3" fill="#9c9ceb" stroke="#1a1a1a" stroke-width="1.2"/>
<circle cx="464.80" cy="140.20" r="3.3" fill="#9c9ceb" stroke="#1a1a1a" stroke-width="1.2"/>
<circle cx="518.20" cy="166.00" r="3.3" fill="#9c9ceb" stroke="#1a1a1a" stroke-width="1.2"/>
<circle cx="536.00" cy="174.50" r="3.3" fill="#9c9ceb" stroke="#1a1a1a" stroke-width="1.2"/>
<circle cx="553.70" cy="176.50" r="3.3" fill="#9c9ceb" stroke="#1a1a1a" stroke-width="1.2"/>
<circle cx="572.00" cy="177.40" r="3.3" fill="#9c9ceb" stroke="#1a1a1a" stroke-width="1.2"/>
<circle cx="589.70" cy="177.00" r="3.3" fill="#9c9ceb" stroke="#1a1a1a" stroke-width="1.2"/>
<circle cx="607.60" cy="176.80" r="3.3" fill="#9c9ceb" stroke="#1a1a1a" stroke-width="1.2"/>
<circle cx="625.40" cy="176.50" r="3.3" fill="#9c9ceb" stroke="#1a1a1a" stroke-width="1.2"/>
<circle cx="518.20" cy="165.60" r="3.5" fill="#262626" stroke="#1a1a1a" stroke-width="1.2"/>
<mask id="m5" maskUnits="userSpaceOnUse" x="380" y="0" width="305" height="248"><rect x="380" y="0" width="305" height="248" fill="#fff"/><circle cx="410.90" cy="30.65" r="5.0" fill="#000"/><circle cx="420.00" cy="38.65" r="5.0" fill="#000"/><circle cx="429.00" cy="41.85" r="5.0" fill="#000"/><circle cx="438.10" cy="44.90" r="5.0" fill="#000"/><circle cx="446.90" cy="62.80" r="5.0" fill="#000"/><circle cx="455.60" cy="79.35" r="5.0" fill="#000"/><circle cx="464.40" cy="118.35" r="5.0" fill="#000"/><circle cx="482.30" cy="146.50" r="5.0" fill="#000"/><circle cx="500.30" cy="161.00" r="5.0" fill="#000"/><circle cx="518.20" cy="166.50" r="5.0" fill="#000"/><circle cx="535.60" cy="167.70" r="5.0" fill="#000"/><circle cx="553.70" cy="168.80" r="5.0" fill="#000"/><circle cx="572.00" cy="166.90" r="5.0" fill="#000"/><circle cx="589.70" cy="166.40" r="5.0" fill="#000"/><circle cx="607.60" cy="166.00" r="5.0" fill="#000"/><circle cx="625.40" cy="163.10" r="5.0" fill="#000"/><circle cx="643.30" cy="164.30" r="5.0" fill="#000"/></mask>
<g mask="url(#m5)">
<path d="M410.90,30.65 C412.42,31.98 416.98,36.78 420.00,38.65 C423.02,40.52 425.98,40.81 429.00,41.85 C432.02,42.89 435.12,41.41 438.10,44.90 C441.08,48.39 443.98,57.06 446.90,62.80 C449.82,68.54 452.68,70.09 455.60,79.35 C458.52,88.61 459.95,107.16 464.40,118.35 C468.85,129.54 476.32,139.39 482.30,146.50 C488.28,153.61 494.32,157.67 500.30,161.00 C506.28,164.33 512.32,165.38 518.20,166.50 C524.08,167.62 529.68,167.32 535.60,167.70 C541.52,168.08 547.63,168.93 553.70,168.80 C559.77,168.67 566.00,167.30 572.00,166.90 C578.00,166.50 583.77,166.55 589.70,166.40 C595.63,166.25 601.65,166.55 607.60,166.00 C613.55,165.45 619.45,163.38 625.40,163.10 C631.35,162.82 640.32,164.10 643.30,164.30" fill="none" stroke="#f27080" stroke-width="1.6" />
</g>
<polygon points="410.90,27.20 415.00,34.10 406.80,34.10" fill="#f27c82" stroke="#1a1a1a" stroke-width="1.2" stroke-linejoin="miter"/>
<polygon points="420.00,35.20 424.10,42.10 415.90,42.10" fill="#f27c82" stroke="#1a1a1a" stroke-width="1.2" stroke-linejoin="miter"/>
<polygon points="429.00,38.40 433.10,45.30 424.90,45.30" fill="#f27c82" stroke="#1a1a1a" stroke-width="1.2" stroke-linejoin="miter"/>
<polygon points="438.10,41.45 442.20,48.35 434.00,48.35" fill="#f27c82" stroke="#1a1a1a" stroke-width="1.2" stroke-linejoin="miter"/>
<polygon points="446.90,59.35 451.00,66.25 442.80,66.25" fill="#f27c82" stroke="#1a1a1a" stroke-width="1.2" stroke-linejoin="miter"/>
<polygon points="455.60,75.90 459.70,82.80 451.50,82.80" fill="#f27c82" stroke="#1a1a1a" stroke-width="1.2" stroke-linejoin="miter"/>
<polygon points="464.40,114.90 468.50,121.80 460.30,121.80" fill="#f27c82" stroke="#1a1a1a" stroke-width="1.2" stroke-linejoin="miter"/>
<polygon points="482.30,143.05 486.40,149.95 478.20,149.95" fill="#f27c82" stroke="#1a1a1a" stroke-width="1.2" stroke-linejoin="miter"/>
<polygon points="500.30,157.55 504.40,164.45 496.20,164.45" fill="#f27c82" stroke="#1a1a1a" stroke-width="1.2" stroke-linejoin="miter"/>
<polygon points="518.20,163.05 522.30,169.95 514.10,169.95" fill="#f27c82" stroke="#1a1a1a" stroke-width="1.2" stroke-linejoin="miter"/>
<polygon points="535.60,164.25 539.70,171.15 531.50,171.15" fill="#f27c82" stroke="#1a1a1a" stroke-width="1.2" stroke-linejoin="miter"/>
<polygon points="553.70,165.35 557.80,172.25 549.60,172.25" fill="#f27c82" stroke="#1a1a1a" stroke-width="1.2" stroke-linejoin="miter"/>
<polygon points="572.00,163.45 576.10,170.35 567.90,170.35" fill="#f27c82" stroke="#1a1a1a" stroke-width="1.2" stroke-linejoin="miter"/>
<polygon points="589.70,162.95 593.80,169.85 585.60,169.85" fill="#f27c82" stroke="#1a1a1a" stroke-width="1.2" stroke-linejoin="miter"/>
<polygon points="607.60,162.55 611.70,169.45 603.50,169.45" fill="#f27c82" stroke="#1a1a1a" stroke-width="1.2" stroke-linejoin="miter"/>
<polygon points="625.40,159.65 629.50,166.55 621.30,166.55" fill="#f27c82" stroke="#1a1a1a" stroke-width="1.2" stroke-linejoin="miter"/>
<polygon points="643.30,160.85 647.40,167.75 639.20,167.75" fill="#f27c82" stroke="#1a1a1a" stroke-width="1.2" stroke-linejoin="miter"/>
<mask id="m6" maskUnits="userSpaceOnUse" x="380" y="0" width="305" height="248"><rect x="380" y="0" width="305" height="248" fill="#fff"/><circle cx="410.90" cy="91.85" r="5.0" fill="#000"/><circle cx="419.80" cy="91.00" r="5.0" fill="#000"/><circle cx="429.00" cy="91.00" r="5.0" fill="#000"/><circle cx="438.20" cy="90.00" r="5.0" fill="#000"/><circle cx="446.90" cy="95.45" r="5.0" fill="#000"/><circle cx="455.50" cy="105.45" r="5.0" fill="#000"/><circle cx="464.40" cy="125.65" r="5.0" fill="#000"/><circle cx="482.40" cy="146.75" r="5.0" fill="#000"/><circle cx="500.40" cy="161.50" r="5.0" fill="#000"/><circle cx="518.20" cy="167.75" r="5.0" fill="#000"/><circle cx="535.60" cy="173.00" r="5.0" fill="#000"/><circle cx="553.70" cy="175.30" r="5.0" fill="#000"/><circle cx="572.00" cy="175.65" r="5.0" fill="#000"/><circle cx="589.70" cy="174.75" r="5.0" fill="#000"/><circle cx="607.60" cy="173.60" r="5.0" fill="#000"/><circle cx="625.40" cy="171.20" r="5.0" fill="#000"/></mask>
<g mask="url(#m6)">
<path d="M410.90,91.85 C412.38,91.71 416.78,91.14 419.80,91.00 C422.82,90.86 425.93,91.17 429.00,91.00 C432.07,90.83 435.22,89.26 438.20,90.00 C441.18,90.74 444.02,92.88 446.90,95.45 C449.78,98.03 452.58,100.42 455.50,105.45 C458.42,110.48 459.92,118.77 464.40,125.65 C468.88,132.53 476.40,140.78 482.40,146.75 C488.40,152.72 494.43,158.00 500.40,161.50 C506.37,165.00 512.33,165.83 518.20,167.75 C524.07,169.67 529.68,171.74 535.60,173.00 C541.52,174.26 547.63,174.86 553.70,175.30 C559.77,175.74 566.00,175.74 572.00,175.65 C578.00,175.56 583.77,175.09 589.70,174.75 C595.63,174.41 601.65,174.19 607.60,173.60 C613.55,173.01 622.43,171.60 625.40,171.20" fill="none" stroke="#aca8f2" stroke-width="1.6" />
</g>
<polygon points="410.90,88.40 415.00,95.30 406.80,95.30" fill="#aaa6f0" stroke="#1a1a1a" stroke-width="1.2" stroke-linejoin="miter"/>
<polygon points="419.80,87.55 423.90,94.45 415.70,94.45" fill="#aaa6f0" stroke="#1a1a1a" stroke-width="1.2" stroke-linejoin="miter"/>
<polygon points="429.00,87.55 433.10,94.45 424.90,94.45" fill="#aaa6f0" stroke="#1a1a1a" stroke-width="1.2" stroke-linejoin="miter"/>
<polygon points="438.20,86.55 442.30,93.45 434.10,93.45" fill="#aaa6f0" stroke="#1a1a1a" stroke-width="1.2" stroke-linejoin="miter"/>
<polygon points="446.90,92.00 451.00,98.90 442.80,98.90" fill="#aaa6f0" stroke="#1a1a1a" stroke-width="1.2" stroke-linejoin="miter"/>
<polygon points="455.50,102.00 459.60,108.90 451.40,108.90" fill="#aaa6f0" stroke="#1a1a1a" stroke-width="1.2" stroke-linejoin="miter"/>
<polygon points="464.40,122.20 468.50,129.10 460.30,129.10" fill="#aaa6f0" stroke="#1a1a1a" stroke-width="1.2" stroke-linejoin="miter"/>
<polygon points="482.40,143.30 486.50,150.20 478.30,150.20" fill="#aaa6f0" stroke="#1a1a1a" stroke-width="1.2" stroke-linejoin="miter"/>
<polygon points="500.40,158.05 504.50,164.95 496.30,164.95" fill="#aaa6f0" stroke="#1a1a1a" stroke-width="1.2" stroke-linejoin="miter"/>
<polygon points="518.20,164.30 522.30,171.20 514.10,171.20" fill="#aaa6f0" stroke="#1a1a1a" stroke-width="1.2" stroke-linejoin="miter"/>
<polygon points="535.60,169.55 539.70,176.45 531.50,176.45" fill="#aaa6f0" stroke="#1a1a1a" stroke-width="1.2" stroke-linejoin="miter"/>
<polygon points="553.70,171.85 557.80,178.75 549.60,178.75" fill="#aaa6f0" stroke="#1a1a1a" stroke-width="1.2" stroke-linejoin="miter"/>
<polygon points="572.00,172.20 576.10,179.10 567.90,179.10" fill="#aaa6f0" stroke="#1a1a1a" stroke-width="1.2" stroke-linejoin="miter"/>
<polygon points="589.70,171.30 593.80,178.20 585.60,178.20" fill="#aaa6f0" stroke="#1a1a1a" stroke-width="1.2" stroke-linejoin="miter"/>
<polygon points="607.60,170.15 611.70,177.05 603.50,177.05" fill="#aaa6f0" stroke="#1a1a1a" stroke-width="1.2" stroke-linejoin="miter"/>
<polygon points="625.40,167.75 629.50,174.65 621.30,174.65" fill="#aaa6f0" stroke="#1a1a1a" stroke-width="1.2" stroke-linejoin="miter"/>
<line x1="570.50" y1="32.20" x2="593.50" y2="32.20" stroke="#c4c4c4" stroke-width="1.5" />
<polygon points="581.80,27.90 582.99,30.56 585.89,30.87 583.72,32.82 584.33,35.68 581.80,34.22 579.27,35.68 579.88,32.82 577.71,30.87 580.61,30.56" fill="#e8767c" stroke="#6e6e6e" stroke-width="1.2" stroke-linejoin="miter"/>
<text x="596.00" y="35.10" font-size="9.5" text-anchor="start" fill="#1c1c1c" >Reset Heating</text>
<line x1="570.50" y1="44.20" x2="593.50" y2="44.20" stroke="#cccccc" stroke-width="1.5" />
<polygon points="581.80,39.90 582.99,42.56 585.89,42.87 583.72,44.82 584.33,47.68 581.80,46.22 579.27,47.68 579.88,44.82 577.71,42.87 580.61,42.56" fill="#b0aaf0" stroke="#6e6e6e" stroke-width="1.2" stroke-linejoin="miter"/>
<text x="596.00" y="47.10" font-size="9.5" text-anchor="start" fill="#1c1c1c" >Reset Cooling</text>
<line x1="570.50" y1="56.40" x2="593.50" y2="56.40" stroke="#f27c82" stroke-width="1.5" />
<circle cx="581.80" cy="56.40" r="3.5" fill="#f27c82" stroke="#1a1a1a" stroke-width="1.2"/>
<text x="598.80" y="59.80" font-size="9.5" text-anchor="start" fill="#1c1c1c" >||<tspan dx="0.4"> </tspan>Heating</text>
<line x1="570.50" y1="68.80" x2="593.50" y2="68.80" stroke="#7e7ee8" stroke-width="1.5" />
<circle cx="581.80" cy="68.80" r="3.5" fill="#9c9ceb" stroke="#1a1a1a" stroke-width="1.2"/>
<text x="598.80" y="72.20" font-size="9.5" text-anchor="start" fill="#1c1c1c" >||<tspan dx="0.4"> </tspan>Cooling</text>
<line x1="570.50" y1="81.30" x2="593.50" y2="81.30" stroke="#f27080" stroke-width="1.5" />
<polygon points="581.80,77.70 586.10,84.90 577.50,84.90" fill="#f27c82" stroke="#1a1a1a" stroke-width="1.2" stroke-linejoin="miter"/>
<line x1="601.40" y1="78.00" x2="601.40" y2="84.90" stroke="#333" stroke-width="0.9" />
<line x1="598.10" y1="84.90" x2="604.70" y2="84.90" stroke="#333" stroke-width="0.9" />
<text x="607.40" y="85.10" font-size="9.5" text-anchor="start" fill="#1c1c1c" >Heating</text>
<line x1="570.50" y1="93.80" x2="593.50" y2="93.80" stroke="#aca8f2" stroke-width="1.5" />
<polygon points="581.80,90.20 586.10,97.40 577.50,97.40" fill="#aaa6f0" stroke="#1a1a1a" stroke-width="1.2" stroke-linejoin="miter"/>
<line x1="601.40" y1="90.50" x2="601.40" y2="97.40" stroke="#333" stroke-width="0.9" />
<line x1="598.10" y1="97.40" x2="604.70" y2="97.40" stroke="#333" stroke-width="0.9" />
<text x="607.40" y="97.60" font-size="9.5" text-anchor="start" fill="#1c1c1c" >Cooling</text>
</svg>
</body></html>
